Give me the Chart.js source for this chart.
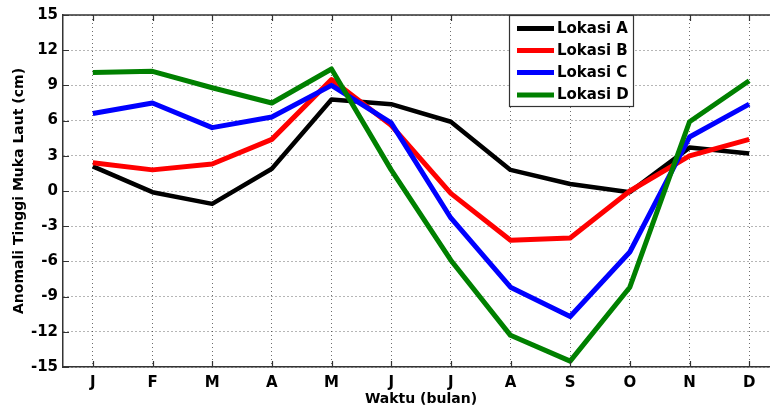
<!DOCTYPE html>
<html>
<head>
<meta charset="utf-8">
<script src="https://cdn.jsdelivr.net/npm/chart.js@4"></script>
<style>
html, body { margin: 0; padding: 0; overflow: hidden; background: #fff; }
canvas { display: block; }
</style>
</head>
<body>
<canvas id="c" width="790" height="408"></canvas>
<script>
const months = ['J', 'F', 'M', 'A', 'M', 'J', 'J', 'A', 'S', 'O', 'N', 'D'];
const lokasiA = [2.1, -0.1, -1.1, 1.9, 7.8, 7.4, 5.9, 1.8, 0.6, -0.1, 3.7, 3.2];
const lokasiB = [2.4, 1.8, 2.3, 4.4, 9.5, 5.6, -0.2, -4.2, -4.0, 0.0, 3.0, 4.4];
const lokasiC = [6.6, 7.5, 5.4, 6.3, 9.0, 5.8, -2.3, -8.2, -10.7, -5.2, 4.6, 7.4];
const lokasiD = [10.1, 10.2, 8.8, 7.5, 10.4, 1.8, -5.9, -12.3, -14.5, -8.2, 5.9, 9.4];
const seriesNames = ['Lokasi A', 'Lokasi B', 'Lokasi C', 'Lokasi D'];
const yTicks = [-15, -12, -9, -6, -3, 0, 3, 6, 9, 12, 15];
const xTitle = 'Waktu (bulan)';
const yTitle = 'Anomali Tinggi Muka Laut (cm)';

const FONT = "'DejaVu Sans', sans-serif";
const AXIS_COLOR = '#333';
const GRID_COLOR = 'rgba(60,60,60,0.75)';

const boxPlugin = {
  id: 'matlabBox',
  afterDraw(chart) {
    const ctx = chart.ctx;
    const a = chart.chartArea;
    const xs = chart.scales.x, ys = chart.scales.y;
    ctx.save();
    ctx.strokeStyle = AXIS_COLOR;
    ctx.lineWidth = 1.5;
    ctx.beginPath();
    ctx.moveTo(a.left, a.top);
    ctx.lineTo(a.right, a.top);
    ctx.moveTo(a.right, a.top);
    ctx.lineTo(a.right, a.bottom);
    ctx.stroke();
    ctx.lineWidth = 1.2;
    ctx.beginPath();
    for (let i = 0; i < months.length; i++) {
      const x = Math.round(xs.getPixelForValue(i)) + 0.5;
      ctx.moveTo(x, a.bottom); ctx.lineTo(x, a.bottom - 6);
      ctx.moveTo(x, a.top); ctx.lineTo(x, a.top + 6);
    }
    for (const v of yTicks) {
      const y = Math.round(ys.getPixelForValue(v)) + 0.5;
      ctx.moveTo(a.left, y); ctx.lineTo(a.left + 6, y);
    }
    ctx.stroke();

    const lx = 509.5, ly = 15.5, lw = 124, lh = 91;
    ctx.fillStyle = '#fff';
    ctx.fillRect(lx, ly, lw, lh);
    ctx.strokeStyle = AXIS_COLOR;
    ctx.lineWidth = 1.2;
    ctx.strokeRect(lx, ly, lw, lh);
    const rows = [28.5, 50.5, 72.5, 95];
    chart.data.datasets.forEach((ds, i) => {
      const y = rows[i];
      ctx.strokeStyle = ds.borderColor;
      ctx.lineWidth = 5;
      ctx.lineCap = 'butt';
      ctx.beginPath();
      ctx.moveTo(517, y);
      ctx.lineTo(554, y);
      ctx.stroke();
      ctx.fillStyle = '#000';
      ctx.font = "bold 15px " + FONT;
      ctx.textBaseline = 'middle';
      ctx.textAlign = 'left';
      ctx.fillText(ds.label, 557, y + 0.5);
    });
    ctx.restore();
  }
};

new Chart(document.getElementById('c'), {
  type: 'line',
  data: {
    labels: months,
    datasets: [
      { label: seriesNames[0], data: lokasiA, borderColor: '#000000', borderWidth: 4.5, order: 3 },
      { label: seriesNames[1], data: lokasiB, borderColor: '#ff0000', borderWidth: 5, order: 2 },
      { label: seriesNames[2], data: lokasiC, borderColor: '#0000ff', borderWidth: 5, order: 1 },
      { label: seriesNames[3], data: lokasiD, borderColor: '#008000', borderWidth: 5, order: 0 }
    ].map(d => Object.assign(d, {
      fill: false, tension: 0, pointRadius: 0, pointHoverRadius: 0,
      borderJoinStyle: 'round', borderCapStyle: 'butt'
    }))
  },
  options: {
    responsive: false,
    animation: false,
    devicePixelRatio: 1,
    layout: { padding: { top: 15, right: 11, left: 0, bottom: 0 } },
    plugins: { legend: { display: false }, tooltip: { enabled: false } },
    scales: {
      x: {
        type: 'category',
        offset: true,
        grid: { display: true, offset: false, color: GRID_COLOR, lineWidth: 1, drawTicks: false },
        border: { display: true, color: AXIS_COLOR, width: 1.5, dash: [1, 3] },
        ticks: { autoSkip: false, maxRotation: 0, padding: 7, color: '#000', font: { family: FONT, size: 15, weight: 'bold' } },
        title: { display: true, text: xTitle, color: '#000', font: { family: FONT, size: 14, weight: 'bold' }, padding: { top: 0, bottom: 0 } },
        afterFit(scale) { scale.height = 41; }
      },
      y: {
        min: -15, max: 15,
        afterBuildTicks(scale) { scale.ticks = yTicks.map(v => ({ value: v })); },
        grid: { display: true, color: GRID_COLOR, lineWidth: 1, drawTicks: false },
        border: { display: true, color: AXIS_COLOR, width: 1.5, dash: [1, 3] },
        ticks: { padding: 5, color: '#000', font: { family: FONT, size: 15, weight: 'bold' } },
        title: { display: true, text: yTitle, color: '#000', font: { family: FONT, size: 14, weight: 'bold' }, padding: { top: 11, bottom: 0 } },
        afterFit(scale) { scale.width = 63; }
      }
    }
  },
  plugins: [boxPlugin]
});
</script>
</body>
</html>
